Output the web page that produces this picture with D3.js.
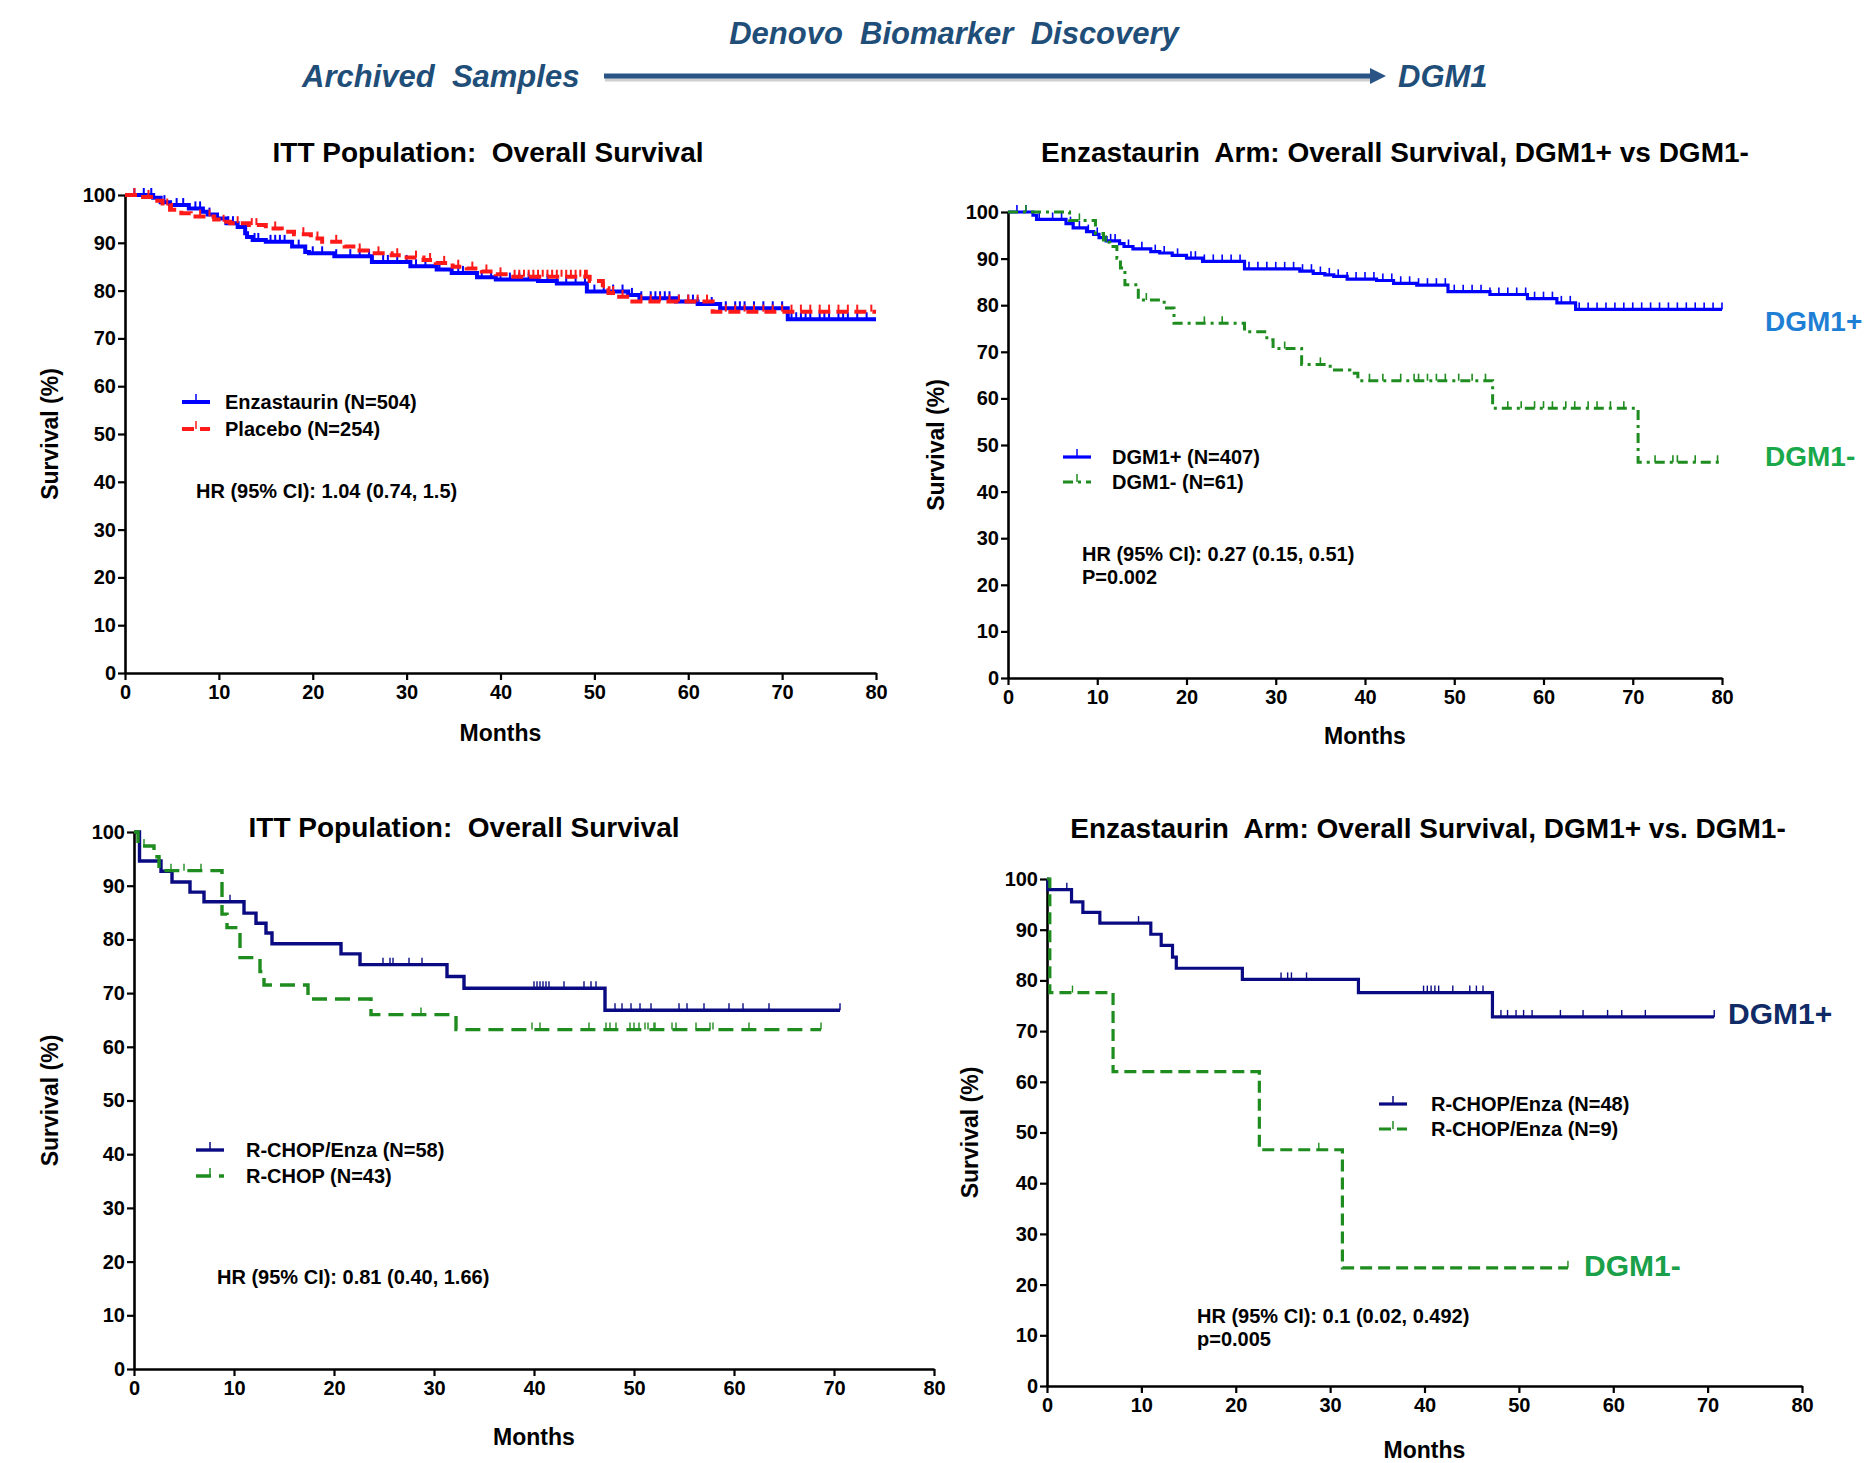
<!DOCTYPE html>
<html>
<head>
<meta charset="utf-8">
<script src="https://cdn.jsdelivr.net/npm/d3@7/dist/d3.min.js"></script>
<style>
  body { margin: 0; background: #fff; }
  text { white-space: pre; }
</style>
</head>
<body>
<div id="chart"></div>
<script>
// ---- Data ----
const xTicks = [0, 10, 20, 30, 40, 50, 60, 70, 80]
const yTicks = [0, 10, 20, 30, 40, 50, 60, 70, 80, 90, 100]

// Panel 1: ITT population
const ittEnzaSteps = [[0,100],[3,99.4],[3.8,98.5],[4.8,97.9],[6.8,97.2],[8.3,96.5],[8.8,95.9],[9.8,95.1],[10.8,94.1],[12,93.3],[12.8,92],[13,91.2],[13.6,90.6],[15,90.2],[17.8,89.2],[19.2,88.1],[19.6,87.8],[22.3,87.2],[26.3,86],[30.4,85.1],[33.2,84.4],[34.8,83.7],[37.5,82.8],[39.5,82.3],[44,82],[46,81.5],[49.2,79.8],[53.6,79.1],[54.8,78.4],[58.7,77.7],[61,77.2],[63.4,76.3],[70.6,74]]
const ittEnzaEnd = 80
const ittEnzaCensor = [1,2,2.8,4.2,5.5,6.2,7.5,8,9,11,11.5,13.8,14.2,15.5,16,16.5,17,18.5,20,21,22.5,24,25,26,27.5,28,29,30,31,32,33.5,35.5,36,38,39,40,41,42,43,44,45,46,47,48,49,50,51,52,53,54,55,56,56.5,57,57.5,58,59,60,60.5,61,62,62.5,64,65,65.5,66,67,68,69,70,71,71.5,72,72.5,73,74,74.5,75,76,76.5,77,78,79]
const ittPlaceboSteps = [[0,100],[1.5,99.6],[3,98.8],[4,97.8],[4.8,96.9],[6,96.2],[7,95.5],[9.5,94.9],[10.3,94.4],[11.2,94.1],[13.2,93.7],[15,93],[16.7,92.3],[18,91.8],[19.8,90.9],[21,90.2],[23.4,89.2],[24.6,88.4],[26.3,87.8],[28.4,87.4],[30,86.9],[31.8,86.4],[33.1,85.8],[34.9,85],[36.4,84.6],[38,84],[39.5,83.4],[41,82.9],[49.5,82],[50.9,80.5],[51.5,79.5],[52.2,78.7],[53.8,77.7],[62.6,75.6]]
const ittPlaceboEnd = 80
const ittPlaceboCensor = [1,2.5,4.5,5,8,9,10.5,12,13.5,14,16,19,20.5,22.5,25,27,29,31,32.5,34,35.5,37,38.5,40,41.5,42,42.5,43,43.5,44,44.5,45,45.5,46,46.5,47,47.5,48,48.5,49,49.2,51,52,53,55,56,57,58,59,60,61,62,64,65,66,67,68,69,70,71,72,73,74,75,76,77,78,79.5]

// Panel 2: Enzastaurin arm, DGM1+ vs DGM1-
const armPosSteps = [[0,100],[2.8,99.3],[3.2,98.4],[6.5,97.5],[7.3,96.6],[8.8,95.8],[9.6,95.2],[10.2,94.5],[11,93.8],[12.5,93.2],[13,92.6],[14,92.1],[16,91.5],[17,91.2],[18.4,90.7],[20,90.1],[21.8,89.4],[26.5,87.8],[32.7,87.3],[34.2,86.8],[35.5,86.5],[36.5,86.2],[38,85.6],[41.3,85.3],[43.2,84.7],[45.8,84.3],[49.3,82.9],[54,82.3],[58.2,81.4],[61.5,80.5],[63.6,79.1]]
const armPosEnd = 80
const armPosCensor = [1,2,3.5,5,6,7,8,9,10,11.5,12,13.5,15,16.5,17.5,19,20.5,21,22,23,24,25,26,27,28,29,30,31,32,33,34,35,36,37,38,39,40,41,42,43,44,45,46,47,48,49,50,51,52,53,54,55,56,57,58,59,60,61,62,63,64,65,66,67,68,69,70,71,72,73,74,75,76,77,78,79,80]
const armNegSteps = [[0,100],[6.9,98.2],[9.8,95.4],[10.7,93.5],[11.4,92.6],[12.2,90.1],[12.6,88],[13.1,84.4],[14.6,81.1],[17.5,79.4],[18.6,76.1],[26.5,74.3],[29,72.6],[29.7,70.7],[32.9,67.3],[36.1,66.1],[38.3,65.4],[39.2,63.8],[54.3,57.9],[70.6,46.3]]
const armNegEnd = 80
const armNegCensor = [2,8,11,15.5,22,24,31,35,40.5,42,44,45.5,46,47,48,49,50.5,52,53.5,56,57.5,59,60,61,62.5,63.5,65,66,67.5,69,72.5,74.5,75,77,79.5]

// Panel 3: ITT subset, R-CHOP/Enza vs R-CHOP
const subEnzaSteps = [[0,100],[0.55,94.6],[2.7,92.7],[3.8,90.7],[5.6,88.8],[7,87],[11,84.9],[12.2,83],[13.2,81.2],[13.8,79.2],[20.7,77.3],[22.6,75.3],[31.3,73.1],[33,70.9],[47.1,66.8]]
const subEnzaEnd = 70.6
const subEnzaCensor = [9.6,24.9,25.6,25.9,27.5,28.8,40,40.3,40.6,40.9,41.2,41.5,43,45,45.7,46.2,48.1,48.8,49.7,50.6,51.7,54.5,55.3,57,59.5,60.9,63.5,70.6]
const subRchopSteps = [[0,100],[0.4,97.4],[2,95.4],[2.5,92.8],[8.8,84.7],[9.3,82.2],[10.6,76.6],[12.6,74],[13,71.5],[17.4,68.9],[23.7,66],[32.2,63.2]]
const subRchopEnd = 68.7
const subRchopCensor = [1,3.7,5,6.7,28.7,39.8,40.6,45.5,47.2,47.6,48.2,49.6,50,50.5,51.1,51.4,52,52.1,53.8,54.2,56.2,57.6,57.9,61.5,68.7]

// Panel 4: Enzastaurin arm subset, DGM1+ vs DGM1-
const subPosSteps = [[0,100],[0.1,97.9],[2.6,95.5],[3.8,93.4],[5.6,91.3],[11,89.1],[12.1,86.9],[13.3,84.6],[13.7,82.4],[20.7,80.2],[33,77.6],[47.2,72.8]]
const subPosEnd = 70.7
const subPosCensor = [2.1,9.7,24.8,25.5,25.9,27.5,39.9,40.3,40.7,41.1,41.5,43,44.8,45.5,46.2,48.1,48.8,49.7,50.5,51.4,54.4,56.8,59.4,60.9,63.4,70.7]
const subNegSteps = [[0,100],[0.3,77.6],[7,62],[22.5,46.6],[31.3,23.3]]
const subNegEnd = 55.2
const subNegCensor = [2.7,28.8,55.2]

// ---- Fonts / colours ----
const narrow = "'Liberation Sans Narrow','Arial Narrow','Liberation Sans',Arial,sans-serif"
const wide = "'Liberation Sans',Arial,sans-serif"
const headColor = '#1f4e79'

// ---- SVG ----
const width = 1867
const height = 1463
const svg = d3.select('#chart').append('svg')
  .attr('width', width)
  .attr('height', height)

// Header: arrow with labels
function headText(label, x, anchor) {
  svg.append('text')
    .attr('x', x[0]).attr('y', x[1]).attr('dy', '0.35em')
    .attr('text-anchor', anchor)
    .attr('font-family', narrow).attr('font-weight', 'bold').attr('font-style', 'italic')
    .attr('font-size', 31).attr('fill', headColor)
    .text(label)
}
headText('Denovo  Biomarker  Discovery', [954, 33], 'middle')
headText('Archived  Samples', [302, 76], 'start')
headText('DGM1', [1398, 76], 'start')

svg.append('line')
  .attr('x1', 605).attr('x2', 1372).attr('y1', 79).attr('y2', 79)
  .attr('stroke', '#cfcfcf').attr('stroke-width', 5)
svg.append('line')
  .attr('x1', 604).attr('x2', 1372).attr('y1', 76).attr('y2', 76)
  .attr('stroke', '#2b5486').attr('stroke-width', 5)
svg.append('path')
  .attr('d', 'M1370,68 L1386,76 L1370,84 Z')
  .attr('fill', '#2b5486')

// Step value of a KM curve at time t
function survAt(steps, t) {
  let v = steps[0][1]
  steps.forEach(d => { if (d[0] <= t) v = d[1] })
  return v
}

function drawPanel(p) {
  const x = d3.scaleLinear().domain([0, 80]).range([p.left, p.right])
  const y = d3.scaleLinear().domain([0, 100]).range([p.bottom, p.top])
  const g = svg.append('g')

  // Title
  g.append('text')
    .attr('x', p.titleX).attr('y', p.titleY).attr('dy', '0.35em')
    .attr('text-anchor', 'middle')
    .attr('font-family', narrow).attr('font-weight', 'bold').attr('font-size', 28)
    .text(p.title)

  // Axes
  const xAxis = g.append('g')
    .attr('transform', `translate(0, ${p.bottom})`)
    .call(d3.axisBottom(x).tickValues(xTicks).tickSize(7).tickSizeOuter(0).tickPadding(5))
  const yAxis = g.append('g')
    .attr('transform', `translate(${p.left}, 0)`)
    .call(d3.axisLeft(y).tickValues(yTicks).tickSize(7).tickSizeOuter(0).tickPadding(2))
  ;[xAxis, yAxis].forEach(a => {
    a.select('.domain').attr('stroke', '#000').attr('stroke-width', 2.6)
    a.selectAll('.tick line').attr('stroke', '#000').attr('stroke-width', 2.2)
    a.selectAll('.tick text')
      .attr('fill', '#000')
      .attr('font-family', narrow).attr('font-weight', 'bold').attr('font-size', 20)
  })

  // Axis titles
  g.append('text')
    .attr('x', (p.left + p.right) / 2).attr('y', p.bottom + p.monthsOff).attr('dy', '0.35em')
    .attr('text-anchor', 'middle')
    .attr('font-family', wide).attr('font-weight', 'bold').attr('font-size', 23)
    .text('Months')
  g.append('text')
    .attr('transform', `translate(${p.survX}, ${(p.top + p.bottom) / 2}) rotate(-90)`)
    .attr('dy', '0.35em')
    .attr('text-anchor', 'middle')
    .attr('font-family', wide).attr('font-weight', 'bold').attr('font-size', 23)
    .text('Survival (%)')

  // Curves
  const line = d3.line()
    .x(d => x(d[0]))
    .y(d => y(d[1]))
    .curve(d3.curveStepAfter)

  p.series.forEach(s => {
    const pts = s.steps.concat([[s.end, s.steps[s.steps.length - 1][1]]])
    g.append('path')
      .datum(pts)
      .attr('fill', 'none')
      .attr('stroke', s.color)
      .attr('stroke-width', s.width)
      .attr('stroke-dasharray', s.dash || null)
      .attr('d', line)

    g.append('g').selectAll('line')
      .data(s.censor)
      .join('line')
      .attr('x1', t => x(t)).attr('x2', t => x(t))
      .attr('y1', t => y(survAt(s.steps, t)))
      .attr('y2', t => y(survAt(s.steps, t)) - 7)
      .attr('stroke', s.color)
      .attr('stroke-width', p.tickWidth)
  })

  // Legend
  p.series.forEach((s, i) => {
    const ly = p.legendY + i * p.legendGap
    g.append('line')
      .attr('x1', p.legendX).attr('x2', p.legendX + 28)
      .attr('y1', ly).attr('y2', ly)
      .attr('stroke', s.color).attr('stroke-width', s.width)
      .attr('stroke-dasharray', s.dash || null)
    g.append('line')
      .attr('x1', p.legendX + 14).attr('x2', p.legendX + 14)
      .attr('y1', ly).attr('y2', ly - 8)
      .attr('stroke', s.color).attr('stroke-width', 1.5)
    g.append('text')
      .attr('x', p.legendX + p.legendTextOff).attr('y', ly).attr('dy', '0.35em')
      .attr('font-family', narrow).attr('font-weight', 'bold').attr('font-size', 20)
      .text(s.label)
  })

  // HR annotation
  p.notes.forEach((n, i) => {
    g.append('text')
      .attr('x', p.noteX).attr('y', p.noteY + i * 23).attr('dy', '0.35em')
      .attr('font-family', narrow).attr('font-weight', 'bold').attr('font-size', 20)
      .text(n)
  })

  // Group labels at the right
  ;(p.tags || []).forEach(t => {
    g.append('text')
      .attr('x', t.x).attr('y', t.y).attr('dy', '0.35em')
      .attr('font-family', narrow).attr('font-weight', 'bold').attr('font-size', t.size)
      .attr('fill', t.color)
      .text(t.text)
  })
}

const blue = '#0000ff'
const red = '#ff1a1a'
const navy = '#0a0a82'
const green = '#1e8c1e'

drawPanel({
  left: 125, right: 876, top: 195, bottom: 673,
  title: 'ITT Population:  Overall Survival', titleX: 488, titleY: 152,
  monthsOff: 60, survX: 50, tickWidth: 2,
  legendX: 182, legendY: 402, legendGap: 27, legendTextOff: 43,
  noteX: 196, noteY: 491,
  notes: ['HR (95% CI): 1.04 (0.74, 1.5)'],
  series: [
    { label: 'Enzastaurin (N=504)', steps: ittEnzaSteps, end: ittEnzaEnd, censor: ittEnzaCensor, color: blue, width: 4 },
    { label: 'Placebo (N=254)', steps: ittPlaceboSteps, end: ittPlaceboEnd, censor: ittPlaceboCensor, color: red, width: 4, dash: '12,6' }
  ]
})

drawPanel({
  left: 1008, right: 1722, top: 212, bottom: 678,
  title: 'Enzastaurin  Arm: Overall Survival, DGM1+ vs DGM1-', titleX: 1395, titleY: 152,
  monthsOff: 58, survX: 936, tickWidth: 1.6,
  legendX: 1063, legendY: 457, legendGap: 25, legendTextOff: 49,
  noteX: 1082, noteY: 554,
  notes: ['HR (95% CI): 0.27 (0.15, 0.51)', 'P=0.002'],
  tags: [
    { text: 'DGM1+', x: 1765, y: 321, size: 28, color: '#1f7fd4' },
    { text: 'DGM1-', x: 1765, y: 456, size: 28, color: '#19a84a' }
  ],
  series: [
    { label: 'DGM1+ (N=407)', steps: armPosSteps, end: armPosEnd, censor: armPosCensor, color: blue, width: 3.2 },
    { label: 'DGM1- (N=61)', steps: armNegSteps, end: armNegEnd, censor: armNegCensor, color: green, width: 3, dash: '10,5,3,5' }
  ]
})

drawPanel({
  left: 134, right: 934, top: 832, bottom: 1369,
  title: 'ITT Population:  Overall Survival', titleX: 464, titleY: 827,
  monthsOff: 68, survX: 50, tickWidth: 1.4,
  legendX: 196, legendY: 1150, legendGap: 26, legendTextOff: 50,
  noteX: 217, noteY: 1277,
  notes: ['HR (95% CI): 0.81 (0.40, 1.66)'],
  series: [
    { label: 'R-CHOP/Enza (N=58)', steps: subEnzaSteps, end: subEnzaEnd, censor: subEnzaCensor, color: navy, width: 3.4 },
    { label: 'R-CHOP (N=43)', steps: subRchopSteps, end: subRchopEnd, censor: subRchopCensor, color: green, width: 3.4, dash: '15,8' }
  ]
})

drawPanel({
  left: 1047, right: 1802, top: 879, bottom: 1386,
  title: 'Enzastaurin  Arm: Overall Survival, DGM1+ vs. DGM1-', titleX: 1428, titleY: 828,
  monthsOff: 64, survX: 970, tickWidth: 1.4,
  legendX: 1379, legendY: 1104, legendGap: 25, legendTextOff: 52,
  noteX: 1197, noteY: 1316,
  notes: ['HR (95% CI): 0.1 (0.02, 0.492)', 'p=0.005'],
  tags: [
    { text: 'DGM1+', x: 1728, y: 1013, size: 30, color: '#102b66' },
    { text: 'DGM1-', x: 1584, y: 1265, size: 30, color: '#19a048' }
  ],
  series: [
    { label: 'R-CHOP/Enza (N=48)', steps: subPosSteps, end: subPosEnd, censor: subPosCensor, color: navy, width: 3.2 },
    { label: 'R-CHOP/Enza (N=9)', steps: subNegSteps, end: subNegEnd, censor: subNegCensor, color: green, width: 3.2, dash: '12,6' }
  ]
})
</script>
</body>
</html>
